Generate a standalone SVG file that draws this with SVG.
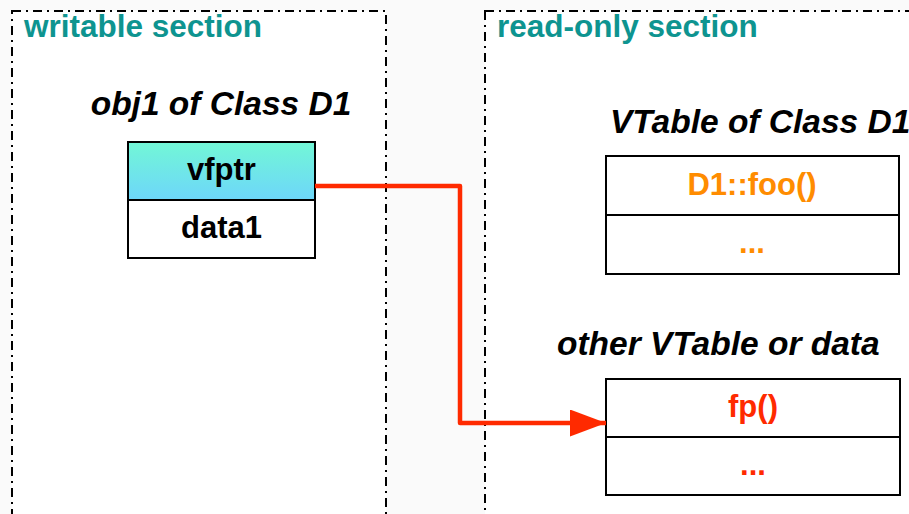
<svg xmlns="http://www.w3.org/2000/svg" width="909" height="514" viewBox="0 0 909 514">
<defs>
<style>
.sec{fill:#ffffff;stroke:#000;stroke-width:2;stroke-dasharray:9,5,2,5}
.sect{font-family:"Liberation Sans",Arial,sans-serif;font-weight:bold;font-size:31.5px;fill:#0e9490}
.title{font-family:"Liberation Sans",Arial,sans-serif;font-weight:bold;font-style:italic;font-size:33.5px;fill:#000}
.cell{fill:#fff;stroke:#000;stroke-width:2}
.lbl{font-family:"Liberation Sans",Arial,sans-serif;font-weight:bold;font-size:31px;text-anchor:middle}
.conn{fill:none;stroke:#ff2a00;stroke-width:4.5;stroke-linejoin:round}
</style>
<linearGradient id="g" x1="0" y1="0" x2="0" y2="1">
<stop offset="0" stop-color="#72f7d6"/>
<stop offset="1" stop-color="#6dd6fa"/>
</linearGradient>
<marker id="ah" markerWidth="8" markerHeight="6" refX="8" refY="3" orient="auto" markerUnits="strokeWidth">
<path d="M0,0 L8,3 L0,6 Z" fill="#ff2a00"/>
</marker>
</defs>
<rect width="909" height="514" fill="#fafafa"/>
<g id="writable">
<rect class="sec" x="12" y="11" width="374" height="520"/>
<text class="sect" x="24" y="37">writable section</text>
</g>
<g id="readonly">
<rect class="sec" x="485" y="11" width="440" height="520"/>
<text class="sect" x="497" y="37">read-only section</text>
</g>
<g id="obj1">
<text class="title" x="221" y="115" text-anchor="middle">obj1 of Class D1</text>
<rect x="128" y="142" width="187" height="58" fill="url(#g)" stroke="#000" stroke-width="2"/>
<rect class="cell" x="128" y="200" width="187" height="58"/>
<text class="lbl" x="221.5" y="180" fill="#000">vfptr</text>
<text class="lbl" x="221.5" y="238" fill="#000">data1</text>
</g>
<g id="vtable">
<text class="title" x="610" y="133">VTable of Class D1</text>
<rect class="cell" x="606" y="156" width="293" height="59"/>
<rect class="cell" x="606" y="215" width="293" height="59"/>
<text class="lbl" x="752" y="195" fill="#ff8c00">D1::foo()</text>
<text class="lbl" x="752" y="253" fill="#ff8c00">...</text>
</g>
<g id="other">
<text class="title" x="557" y="355">other VTable or data</text>
<rect class="cell" x="606" y="379" width="294" height="58"/>
<rect class="cell" x="606" y="437" width="294" height="58"/>
<text class="lbl" x="753" y="417" fill="#ff2a00">fp()</text>
<text class="lbl" x="753" y="475" fill="#ff2a00">...</text>
</g>
<g id="connectors">
<path class="conn" d="M315,186 H460 V423 H606" marker-end="url(#ah)"/>
</g>
</svg>
